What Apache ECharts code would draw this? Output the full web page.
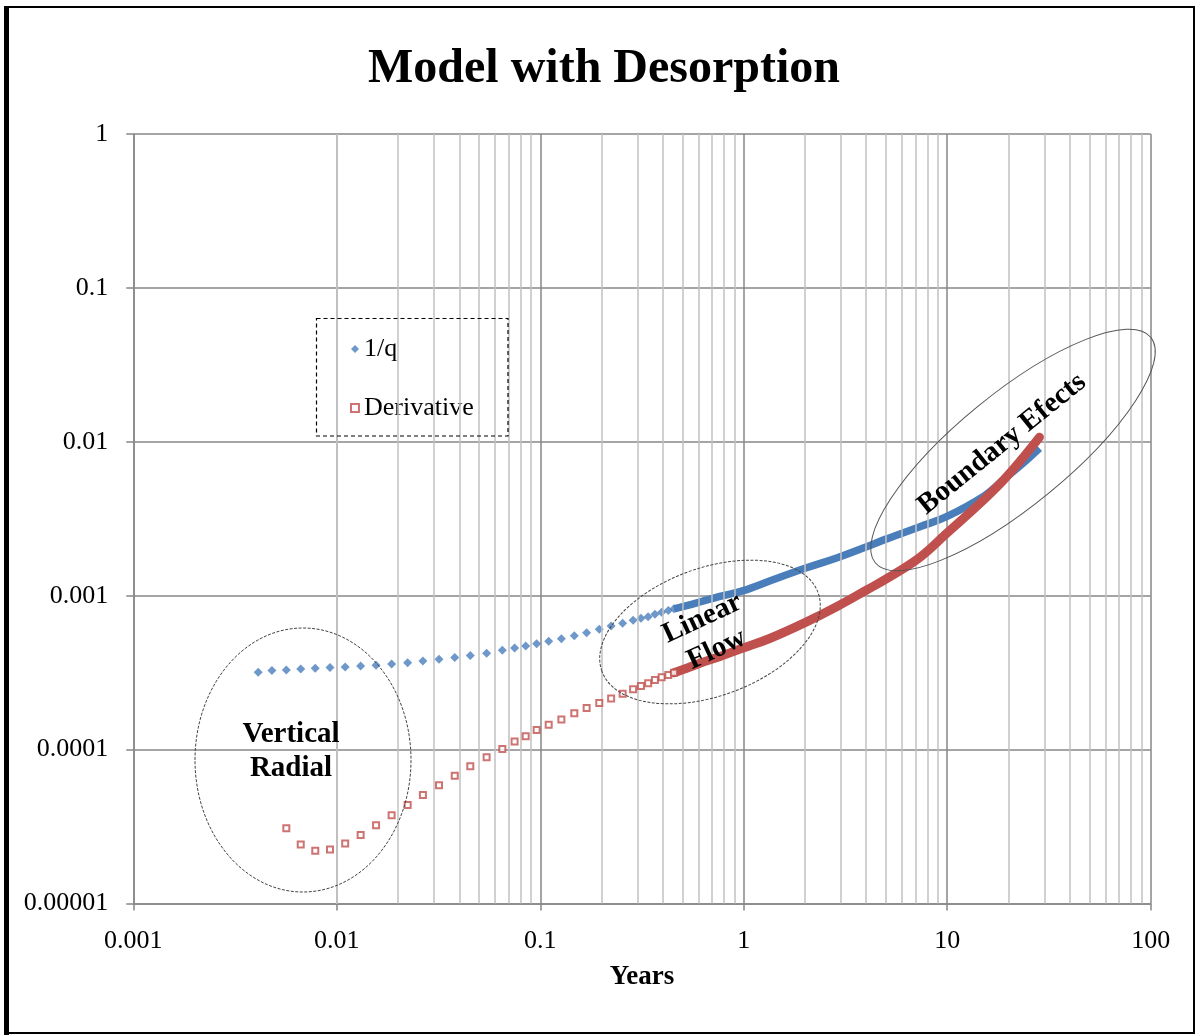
<!DOCTYPE html>
<html>
<head>
<meta charset="utf-8">
<title>Model with Desorption</title>
<script src="https://cdn.jsdelivr.net/npm/echarts@6/dist/echarts.min.js"></script>
<style>
  html, body { margin: 0; padding: 0; background: #fff; }
  #chart { width: 1195px; height: 1035px; }
</style>
</head>
<body>
<div id="chart"></div>
<script>
// Early-time samples (years), shared by both curves
const earlyYears = [0.00411, 0.00480, 0.00565, 0.00665, 0.00784, 0.00926, 0.0110, 0.0131, 0.0156, 0.0186,
  0.0223, 0.0265, 0.0318, 0.0380, 0.0453, 0.0545, 0.0651, 0.0748, 0.0848, 0.0960,
  0.110, 0.127, 0.147, 0.169, 0.195, 0.223, 0.254, 0.286, 0.3125, 0.339,
  0.366, 0.395, 0.426, 0.454];

// 1/q at the early samples
const invQEarly = [3.18e-4, 3.26e-4, 3.29e-4, 3.34e-4, 3.38e-4, 3.41e-4, 3.44e-4, 3.49e-4, 3.53e-4, 3.60e-4,
  3.67e-4, 3.77e-4, 3.86e-4, 3.96e-4, 4.08e-4, 4.22e-4, 4.42e-4, 4.57e-4, 4.71e-4, 4.88e-4,
  5.06e-4, 5.26e-4, 5.50e-4, 5.75e-4, 6.05e-4, 6.36e-4, 6.62e-4, 6.92e-4, 7.13e-4, 7.30e-4,
  7.58e-4, 7.82e-4, 8.02e-4, 8.22e-4];

// Derivative at the early samples (undefined for the first two)
const derivEarly = [null, null, 3.08e-5, 2.42e-5, 2.20e-5, 2.24e-5, 2.45e-5, 2.79e-5, 3.22e-5, 3.74e-5,
  4.37e-5, 5.07e-5, 5.86e-5, 6.77e-5, 7.79e-5, 8.91e-5, 1.01e-4, 1.13e-4, 1.22e-4, 1.34e-4,
  1.45e-4, 1.57e-4, 1.72e-4, 1.86e-4, 2.01e-4, 2.15e-4, 2.31e-4, 2.47e-4, 2.59e-4, 2.70e-4,
  2.83e-4, 2.95e-4, 3.05e-4, 3.16e-4];

// Late-time, densely sampled part of each curve
const invQLateYears = [0.454, 0.524, 0.609, 0.764, 0.994, 1.35, 2.00, 2.86, 4.02, 5.04, 7.34, 9.93, 15.0, 18.85, 23.6, 28.4];
const invQLate = [8.22e-4, 8.62e-4, 9.10e-4, 9.90e-4, 1.078e-3, 1.25e-3, 1.507e-3, 1.76e-3, 2.082e-3, 2.34e-3,
  2.808e-3, 3.26e-3, 4.40e-3, 5.65e-3, 7.25e-3, 9.07e-3];

const derivLateYears = [0.454, 0.524, 0.609, 0.764, 0.994, 1.35, 2.00, 2.86, 4.02, 5.04, 7.34, 9.93, 14.5, 18.85, 23.6, 28.4];
const derivLate = [3.16e-4, 3.38e-4, 3.64e-4, 4.03e-4, 4.57e-4, 5.29e-4, 6.68e-4, 8.48e-4, 1.089e-3, 1.29e-3,
  1.776e-3, 2.54e-3, 3.99e-3, 5.62e-3, 7.90e-3, 1.069e-2];

// Axis tick labels
const xTickLabels = ['0.001', '0.01', '0.1', '1', '10', '100'];
const yTickLabels = ['0.00001', '0.0001', '0.001', '0.01', '0.1', '1'];
// Minor vertical grid lines: 2..9 within each decade
const decadeStarts = [0.001, 0.01, 0.1, 1, 10];
const minorSteps = [2, 3, 4, 5, 6, 7, 8, 9];

const BLUE = '#4a7ebb';
const RED = '#c0504d';
const SERIF = '"Liberation Serif", "Times New Roman", serif';
const MAJOR = '#878787';
const MINOR = '#c0c0c0';

const pair = (xs, ys) => xs.map((x, i) => [x, ys[i]]).filter(p => p[1] != null);

const minorLines = [];
decadeStarts.forEach(d => minorSteps.forEach(s => minorLines.push({ xAxis: +(d * s).toPrecision(6) })));

const chart = echarts.init(document.getElementById('chart'), null, { renderer: 'canvas' });

chart.setOption({
  animation: false,
  backgroundColor: '#fff',
  title: {
    text: 'Model with Desorption',
    left: 599,
    textAlign: 'center',
    top: 41,
    textStyle: { fontFamily: SERIF, fontSize: 48, fontWeight: 'bold', color: '#000' }
  },
  grid: { left: 133.3, right: 44.3, top: 134, bottom: 131.5, containLabel: false },
  legend: {
    data: ['1/q', 'Derivative'],
    orient: 'vertical',
    left: 350,
    top: 336,
    padding: 0,
    itemWidth: 8,
    itemHeight: 8,
    itemGap: 33,
    selectedMode: false,
    textStyle: { fontFamily: SERIF, fontSize: 26, color: '#000', lineHeight: 26 }
  },
  xAxis: {
    type: 'log',
    logBase: 10,
    min: 0.001,
    max: 100,
    name: 'Years',
    nameLocation: 'middle',
    nameGap: 60,
    nameTextStyle: { fontFamily: SERIF, fontSize: 27, fontWeight: 'bold', color: '#000' },
    axisLine: { show: true, lineStyle: { color: MAJOR, width: 1.5 } },
    axisTick: { show: true, inside: false, length: 7, lineStyle: { color: MAJOR, width: 1.5 } },
    axisLabel: {
      margin: 25,
      fontFamily: SERIF, fontSize: 26, color: '#000',
      formatter: v => xTickLabels[Math.round(Math.log10(v)) + 3]
    },
    splitLine: { show: true, lineStyle: { color: MAJOR, width: 1.5 } }
  },
  yAxis: {
    type: 'log',
    logBase: 10,
    min: 0.00001,
    max: 1,
    axisLine: { show: true, lineStyle: { color: MAJOR, width: 1.5 } },
    axisTick: { show: true, inside: false, length: 7, lineStyle: { color: MAJOR, width: 1.5 } },
    axisLabel: {
      margin: 25,
      fontFamily: SERIF, fontSize: 26, color: '#000',
      formatter: v => yTickLabels[Math.round(Math.log10(v)) + 5]
    },
    splitLine: { show: true, lineStyle: { color: MAJOR, width: 1.5 } }
  },
  series: [
    {
      name: 'minor grid',
      type: 'line',
      data: [],
      z: 1,
      silent: true,
      markLine: {
        silent: true,
        symbol: ['none', 'none'],
        label: { show: false },
        lineStyle: { color: MINOR, width: 1.5, type: 'solid' },
        emphasis: { disabled: true },
        data: minorLines
      }
    },
    {
      name: '1/q trend',
      type: 'line',
      data: pair(invQLateYears, invQLate),
      showSymbol: false,
      smooth: 0.4,
      z: 3,
      silent: true,
      lineStyle: { color: BLUE, width: 7.5, cap: 'butt', join: 'round' }
    },
    {
      name: '1/q',
      type: 'scatter',
      data: pair(earlyYears, invQEarly),
      symbol: 'diamond',
      symbolSize: 9,
      z: 4,
      itemStyle: { color: BLUE }
    },
    {
      name: 'Derivative trend',
      type: 'line',
      data: pair(derivLateYears, derivLate),
      showSymbol: false,
      smooth: 0.4,
      z: 5,
      silent: true,
      lineStyle: { color: RED, width: 9, cap: 'round', join: 'round' }
    },
    {
      name: 'Derivative',
      type: 'scatter',
      data: pair(earlyYears, derivEarly),
      symbol: 'rect',
      symbolSize: 6,
      z: 6,
      itemStyle: { color: '#fff', borderColor: RED, borderWidth: 2 }
    }
  ],
  graphic: [
    // outer frame
    { type: 'rect', z: 200, shape: { x: 6.5, y: 7, width: 1187.5, height: 1026 },
      style: { fill: 'none', stroke: '#000', lineWidth: 2 } },
    { type: 'rect', z: 200, shape: { x: 4, y: 6, width: 5, height: 1029 }, style: { fill: '#000' } },
    // legend frame
    { type: 'rect', z: 150, shape: { x: 316.5, y: 318.5, width: 191.5, height: 117.5 },
      style: { fill: 'none', stroke: '#000', lineWidth: 1.2, lineDash: [4, 3] } },
    // flow regime outlines
    { type: 'ellipse', z: 150, x: 303, y: 760, shape: { cx: 0, cy: 0, rx: 108, ry: 132 },
      style: { fill: 'none', stroke: '#444', lineWidth: 1, lineDash: [3, 1.5] } },
    { type: 'ellipse', z: 150, x: 710, y: 632, rotation: 20 * Math.PI / 180, shape: { cx: 0, cy: 0, rx: 115, ry: 64 },
      style: { fill: 'none', stroke: '#444', lineWidth: 1, lineDash: [3, 1.5] } },
    { type: 'ellipse', z: 150, x: 1013, y: 450, rotation: 39.3 * Math.PI / 180, shape: { cx: 0, cy: 0, rx: 178, ry: 56 },
      style: { fill: 'none', stroke: '#555', lineWidth: 1 } },
    // flow regime labels
    { type: 'text', z: 160, x: 291, y: 752,
      style: { text: 'Vertical\nRadial', fontFamily: SERIF, fontSize: 29, fontWeight: 'bold', fill: '#000',
        textAlign: 'center', textVerticalAlign: 'middle', lineHeight: 34 } },
    { type: 'text', z: 160, x: 709.5, y: 634, rotation: 25 * Math.PI / 180,
      style: { text: 'Linear\nFlow', fontFamily: SERIF, fontSize: 29, fontWeight: 'bold', fill: '#000',
        textAlign: 'center', textVerticalAlign: 'middle', lineHeight: 34 } },
    { type: 'text', z: 160, x: 1002, y: 444, rotation: 39 * Math.PI / 180,
      style: { text: 'Boundary Efects', fontFamily: SERIF, fontSize: 29, fontWeight: 'bold', fill: '#000',
        textAlign: 'center', textVerticalAlign: 'middle' } }
  ]
});
</script>
</body>
</html>
